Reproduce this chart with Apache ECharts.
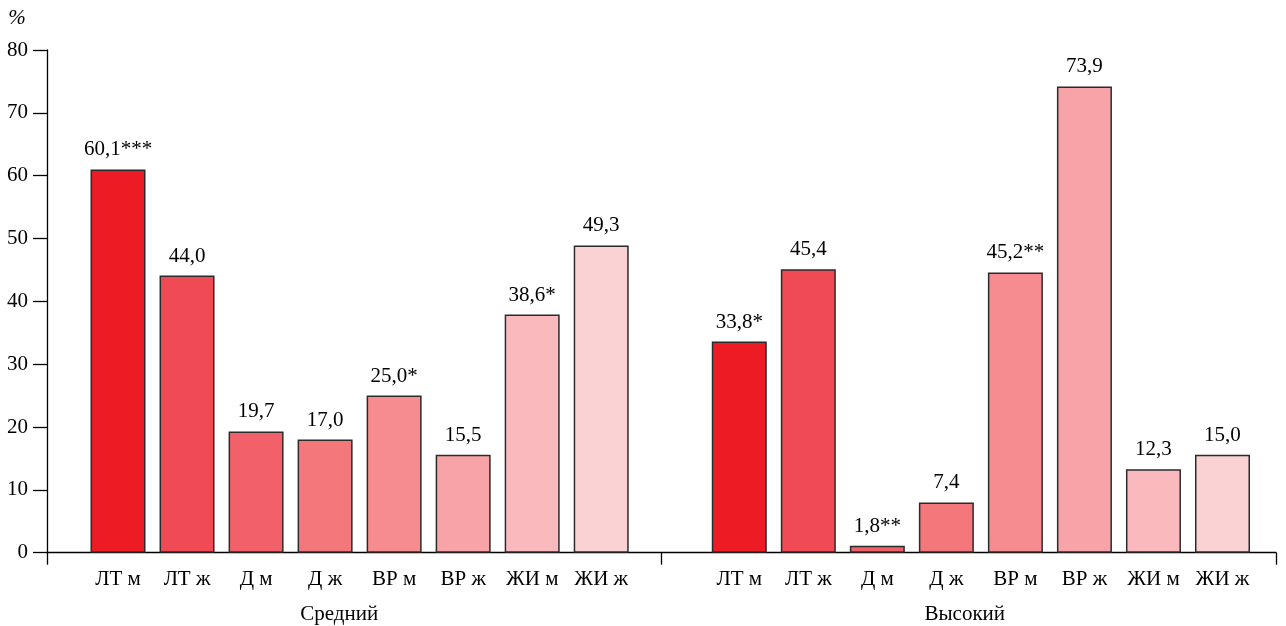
<!DOCTYPE html>
<html>
<head>
<meta charset="utf-8">
<script src="https://cdn.jsdelivr.net/npm/echarts@6/dist/echarts.min.js"></script>
<style>html,body{margin:0;padding:0;background:#fff}#c{width:1286px;height:626px}</style>
</head>
<body>
<div id="c"></div>
<script>
// ---- data ----
const groups = ['Средний', 'Высокий'];
const subCategories = ['ЛТ м', 'ЛТ ж', 'Д м', 'Д ж', 'ВР м', 'ВР ж', 'ЖИ м', 'ЖИ ж'];
// bar heights as drawn in the picture
const sredniyValues = [61.0, 44.1, 19.3, 18.0, 25.0, 15.6, 37.9, 48.9];
const vysokiyValues = [33.6, 45.1, 1.1, 8.0, 44.6, 74.2, 13.3, 15.6];
// printed value labels
const sredniyLabels = ['60,1***', '44,0', '19,7', '17,0', '25,0*', '15,5', '38,6*', '49,3'];
const vysokiyLabels = ['33,8*', '45,4', '1,8**', '7,4', '45,2**', '73,9', '12,3', '15,0'];
const yTicks = [0, 10, 20, 30, 40, 50, 60, 70, 80];
const colors = ['#ED1C24', '#F04B55', '#F2616A', '#F4777C', '#F68C90', '#F8A3A8', '#FABABD', '#FAD2D4'];

// ---- build ----
const FONT = 'Liberation Serif';
const FS = 21;
const cats = [], barData = [], labelTexts = [];
subCategories.forEach((s, i) => { cats.push(s); barData.push({value: sredniyValues[i], itemStyle: {color: colors[i]}}); labelTexts.push(sredniyLabels[i]); });
cats.push(''); barData.push({value: '-'}); labelTexts.push('');
subCategories.forEach((s, i) => { cats.push(s); barData.push({value: vysokiyValues[i], itemStyle: {color: colors[i]}}); labelTexts.push(vysokiyLabels[i]); });

const chart = echarts.init(document.getElementById('c'), null, {renderer: 'canvas'});
chart.setOption({
  animation: false,
  backgroundColor: '#fff',
  textStyle: {fontFamily: FONT},
  grid: [
    {left: 47, right: 10, top: 50, bottom: 73.3},
    {left: 83.5, right: 29, top: 50, bottom: 73.3}
  ],
  xAxis: [
    {
      gridIndex: 0, type: 'category',
      data: [
        {value: groups[0], textStyle: {padding: [0, 30, 0, 0]}},
        {value: groups[1], textStyle: {padding: [0, 8, 0, 0]}}
      ],
      axisLine: {lineStyle: {color: '#000', width: 1.3}},
      axisTick: {show: true, length: 12, lineStyle: {color: '#000', width: 1.3}},
      axisLabel: {margin: 51, color: '#000', fontFamily: FONT, fontSize: FS}
    },
    {
      gridIndex: 1, type: 'category', data: cats,
      axisLine: {show: false}, axisTick: {show: false},
      axisLabel: {margin: 16, color: '#000', fontFamily: FONT, fontSize: FS, interval: 0}
    }
  ],
  yAxis: [
    {
      gridIndex: 0, type: 'value', min: 0, max: 80, interval: 10,
      name: '%', nameLocation: 'end', nameGap: 21,
      nameTextStyle: {color: '#000', fontFamily: FONT, fontSize: FS, fontStyle: 'italic', align: 'center', padding: [0, 60, 0, 0]},
      axisLine: {show: true, lineStyle: {color: '#000', width: 1.3}},
      axisTick: {show: true, length: 14, lineStyle: {color: '#000', width: 1.3}},
      axisLabel: {margin: 19, color: '#000', fontFamily: FONT, fontSize: FS,
        formatter: v => yTicks.includes(v) ? String(v) : ''},
      splitLine: {show: false}
    },
    {
      gridIndex: 1, type: 'value', min: 0, max: 80, interval: 10,
      axisLine: {show: false}, axisTick: {show: false}, axisLabel: {show: false}, splitLine: {show: false}
    }
  ],
  series: [{
    type: 'bar', xAxisIndex: 1, yAxisIndex: 1,
    data: barData, barWidth: 55,
    itemStyle: {borderColor: '#2b2b2b', borderWidth: 1.5},
    label: {
      show: true, position: 'top', distance: 9,
      color: '#000', fontFamily: FONT, fontSize: FS,
      formatter: p => labelTexts[p.dataIndex]
    }
  }]
});
</script>
</body>
</html>
